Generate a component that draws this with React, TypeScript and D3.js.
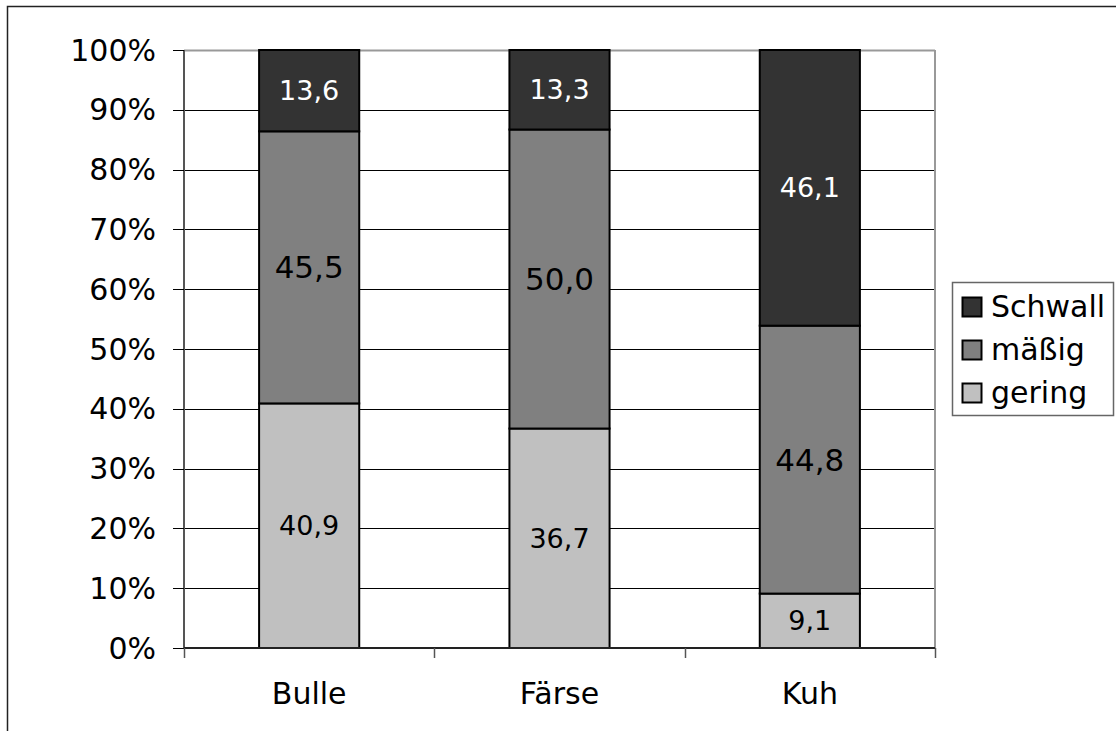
import React from "react";
import * as d3 from "d3";

const categories = ["Bulle", "Färse", "Kuh"];
const seriesNames = ["gering", "mäßig", "Schwall"];
const gering = [40.9, 36.7, 9.1];
const maessig = [45.5, 50.0, 44.8];
const schwall = [13.6, 13.3, 46.1];
const labelGering = ["40,9", "36,7", "9,1"];
const labelMaessig = ["45,5", "50,0", "44,8"];
const labelSchwall = ["13,6", "13,3", "46,1"];
const yTicks = [0, 10, 20, 30, 40, 50, 60, 70, 80, 90, 100];

const colors: Record<string, string> = { gering: "#C0C0C0", "mäßig": "#808080", Schwall: "#333333" };
const textColors: Record<string, string> = { gering: "#000", "mäßig": "#000", Schwall: "#fff" };
const labelSizes: Record<string, number> = { gering: 27, "mäßig": 31, Schwall: 27 };

const FONT = "'DejaVu Sans', Verdana, sans-serif";

export default function App() {
  const W = 1116, H = 731;
  const left = 184, right = 935, top = 50, bottom = 648;
  const x = d3.scaleBand().domain(categories).range([left, right]).paddingInner(0.6).paddingOuter(0.3);
  const y = d3.scaleLinear().domain([0, 100]).range([bottom, top]);

  const values: Record<string, number[]> = { gering, "mäßig": maessig, Schwall: schwall };
  const labels: Record<string, string[]> = { gering: labelGering, "mäßig": labelMaessig, Schwall: labelSchwall };
  const table = categories.map((c, i) => {
    const row: any = { cat: c };
    seriesNames.forEach((s) => (row[s] = values[s][i]));
    return row;
  });
  const stacked = d3.stack().keys(seriesNames)(table);
  const band = (right - left) / categories.length;
  const boundaries = d3.range(categories.length + 1).map((i) => left + i * band);

  const legendItems = ["Schwall", "mäßig", "gering"];

  return (
    <svg width={W} height={H} style={{ position: "absolute", left: 0, top: 0, background: "#fff" }} fontFamily={FONT}>
      <rect x={7.5} y={6.5} width={W + 20} height={H + 20} fill="#fff" stroke="#222" strokeWidth={1.5} />
      {/* gridlines */}
      {yTicks.map((t) => (
        <line key={"g" + t} x1={left} x2={right} y1={Math.round(y(t)) + 0.5} y2={Math.round(y(t)) + 0.5}
          stroke={t === 100 ? "#999" : "#000"} strokeWidth={t === 100 ? 2 : 1} />
      ))}
      {/* plot border right */}
      <line x1={right} x2={right} y1={top} y2={bottom} stroke="#999" strokeWidth={2} />
      {/* bars */}
      {stacked.map((layer) => (
        <g key={layer.key}>
          {layer.map((d, i) => (
            <rect key={i} x={x(categories[i])!} width={x.bandwidth()} y={y(d[1])} height={y(d[0]) - y(d[1])}
              fill={colors[layer.key]} stroke="#000" strokeWidth={2} />
          ))}
        </g>
      ))}
      {stacked.map((layer) => (
        <g key={"l" + layer.key}>
          {layer.map((d, i) => (
            <text key={i} x={x(categories[i])! + x.bandwidth() / 2} y={(y(d[0]) + y(d[1])) / 2}
              textAnchor="middle" dominantBaseline="central" fontSize={labelSizes[layer.key]}
              fill={textColors[layer.key]}>{labels[layer.key][i]}</text>
          ))}
        </g>
      ))}
      {/* y axis */}
      <line x1={left} x2={left} y1={top} y2={bottom} stroke="#555" strokeWidth={2} />
      {yTicks.map((t) => (
        <g key={"t" + t}>
          <line x1={left - 11} x2={left} y1={Math.round(y(t)) + 0.5} y2={Math.round(y(t)) + 0.5} stroke="#000" strokeWidth={1} />
          <text x={156} y={y(t)} textAnchor="end" dominantBaseline="central" fontSize={30} fill="#000">{t + "%"}</text>
        </g>
      ))}
      {/* x axis */}
      <line x1={left} x2={right} y1={bottom} y2={bottom} stroke="#222" strokeWidth={2} />
      {boundaries.map((b, i) => (
        <line key={"xb" + i} x1={Math.round(b) + 0.5} x2={Math.round(b) + 0.5} y1={bottom} y2={bottom + 10} stroke="#555" strokeWidth={1.5} />
      ))}
      {categories.map((c) => (
        <text key={c} x={x(c)! + x.bandwidth() / 2} y={704} textAnchor="middle" fontSize={30} fill="#000">{c}</text>
      ))}
      {/* legend */}
      <rect x={952.5} y={282.5} width={161} height={133} fill="#fff" stroke="#666" strokeWidth={1.5} />
      {legendItems.map((s, i) => (
        <g key={"lg" + s}>
          <rect x={962.5} y={297.5 + i * 43} width={19} height={19} fill={colors[s]} stroke="#000" strokeWidth={2} />
          <text x={991} y={317 + i * 43} fontSize={30} fill="#000">{s}</text>
        </g>
      ))}
    </svg>
  );
}
